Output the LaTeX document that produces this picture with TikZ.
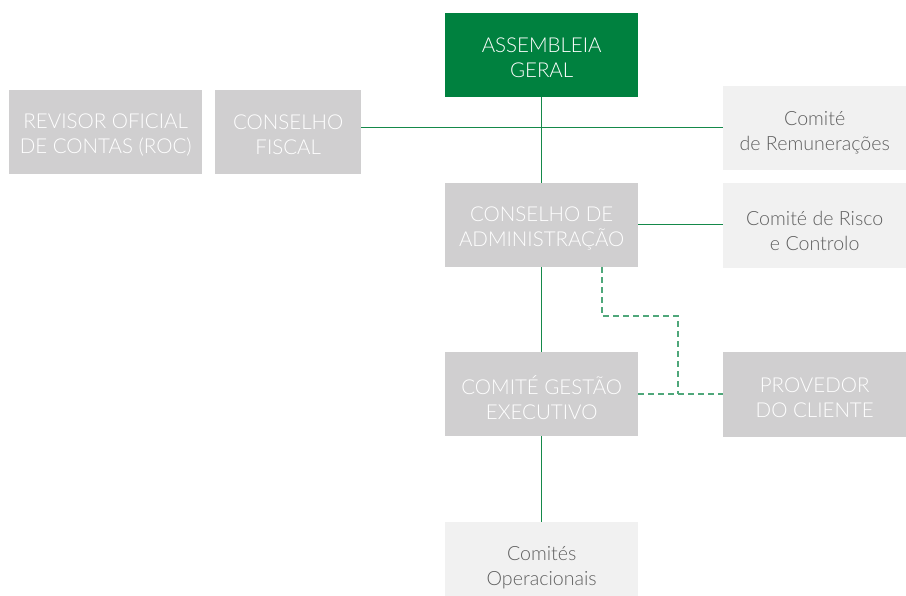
\documentclass[tikz,border=0pt]{standalone}
\usepackage{fontspec}
\setmainfont{Lato}[UprightFont=* Light]
\definecolor{agreen}{HTML}{00813F}
\definecolor{lgreen}{HTML}{15894A}
\definecolor{dgrey}{HTML}{D0CFD0}
\definecolor{lgrey}{HTML}{F1F1F1}
\definecolor{tgrey}{HTML}{5F5F5F}
\definecolor{dgreen}{HTML}{4FA77A}
\begin{document}
\begin{tikzpicture}[x=1pt,y=-1pt,
  box/.style={anchor=north west,inner sep=0pt},
  bigtxt/.style={align=center,font=\fontsize{20.5}{25}\selectfont,yshift=-3pt},
  smalltxt/.style={align=center,font=\fontsize{19.6}{25}\selectfont,text=tgrey,yshift=-5pt},
  mainbox/.style={box,fill=agreen},
  darkbox/.style={box,fill=dgrey},
  lightbox/.style={box,fill=lgrey},
  link/.style={lgreen,line width=1pt},
  dlink/.style={dgreen,line width=1.1pt,dash pattern=on 6pt off 4pt}]
\useasboundingbox (0,0) rectangle (906,596);
\node[mainbox,minimum width=193pt,minimum height=84pt,label={[bigtxt,text=white]center:{ASSEMBLEIA\\GERAL}}] (ag) at (445,13) {};
\node[darkbox,minimum width=193pt,minimum height=84pt,label={[bigtxt,text=white]center:{REVISOR OFICIAL\\DE CONTAS (ROC)}}] (roc) at (9,90) {};
\node[darkbox,minimum width=146pt,minimum height=84pt,label={[bigtxt,text=white]center:{CONSELHO\\FISCAL}}] (cf) at (215,90) {};
\node[lightbox,minimum width=183pt,minimum height=84pt,label={[smalltxt]center:{Comité\\de Remunerações}}] (rem) at (723,86) {};
\node[darkbox,minimum width=193pt,minimum height=84pt,label={[bigtxt,text=white]center:{CONSELHO DE\\ADMINISTRAÇÃO}}] (ca) at (445,183) {};
\node[lightbox,minimum width=183pt,minimum height=85pt,label={[smalltxt]center:{Comité de Risco\\e Controlo}}] (rc) at (723,183) {};
\node[darkbox,minimum width=193pt,minimum height=84pt,label={[bigtxt,text=white]center:{COMITÉ GESTÃO\\EXECUTIVO}}] (cge) at (445,352) {};
\node[darkbox,minimum width=183pt,minimum height=85pt,label={[bigtxt,text=white]center:{PROVEDOR\\DO CLIENTE}}] (pc) at (723,352) {};
\node[lightbox,minimum width=193pt,minimum height=74pt,label={[smalltxt,yshift=-4pt]center:{Comités\\Operacionais}}] (co) at (445,522) {};
\coordinate (j1) at (541,128);
\draw[link] (ag.south) -- (ca.north);
\draw[link] (cf.east |- j1) -- (rem.west |- j1);
\draw[link] (ca.east |- 0,225) -- (rc.west |- 0,225);
\draw[link] (ca.south) -- (cge.north);
\draw[link] (cge.south) -- (co.north);
\coordinate (d1) at (602,316);
\coordinate (d2) at (678,394);
\draw[dlink] (ca.south -| d1) -- (d1) -| (d2);
\draw[dlink] (cge.east |- d2) -- (pc.west |- d2);
\end{tikzpicture}
\end{document}
